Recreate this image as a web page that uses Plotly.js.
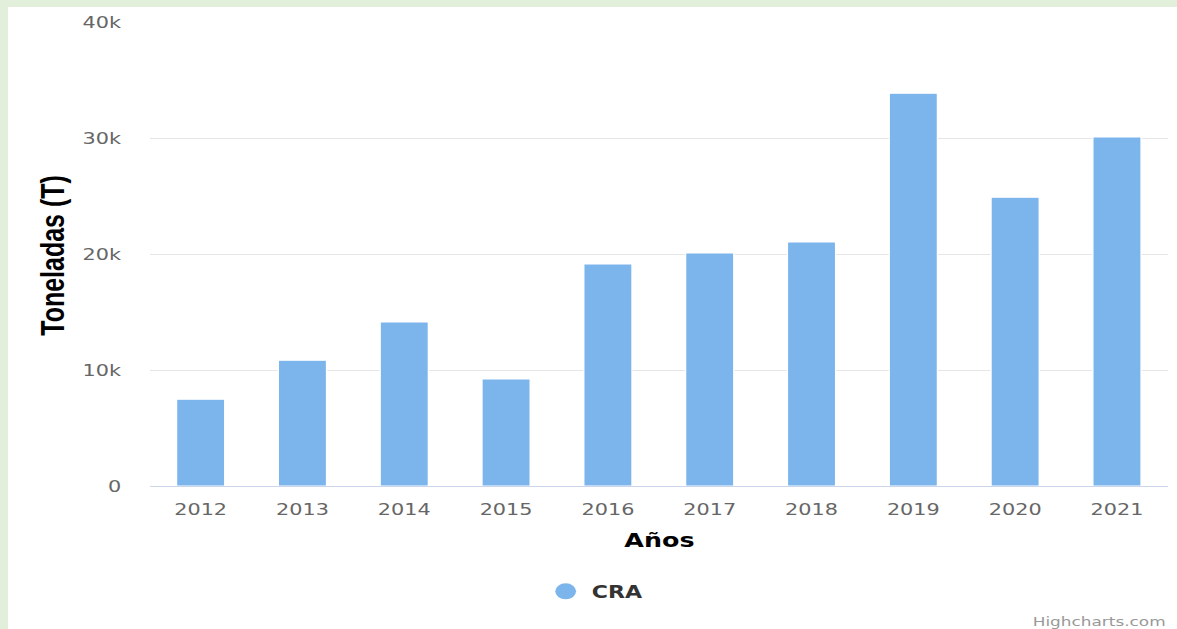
<!DOCTYPE html>
<html>
<head>
<meta charset="utf-8">
<script src="https://cdn.plot.ly/plotly-3.0.1.min.js"></script>
<style>
  html, body { margin: 0; padding: 0; width: 1177px; height: 629px; overflow: hidden; background: #e2efda; }
  #frame { position: absolute; left: 8px; top: 7px; width: 1169px; height: 622px; background: #ffffff; overflow: hidden; }
  #chart { position: absolute; left: 0; top: 0; width: 899px; height: 622px; transform: scaleX(1.3003); transform-origin: 0 0; }
</style>
</head>
<body>
<div id="frame"><div id="chart"></div></div>
<script>
// Data
const years = ['2012', '2013', '2014', '2015', '2016', '2017', '2018', '2019', '2020', '2021'];
const toneladas = [7480, 10850, 14140, 9220, 19140, 20090, 21030, 33850, 24900, 30080];
const seriesName = 'CRA';
const yTickVals = [0, 10000, 20000, 30000, 40000];
const yTickText = ['0', '10k', '20k', '30k', '40k'];
const xTitle = 'Años';
const yTitle = 'Toneladas (T)';
const credit = 'Highcharts.com';

const barColor = '#7cb5ec';

const traces = [
  {
    type: 'bar',
    x: years,
    y: toneladas,
    name: seriesName,
    showlegend: false,
    marker: { color: barColor, line: { color: '#ffffff', width: 1 } },
    hoverinfo: 'x+y'
  },
  {
    type: 'scatter',
    mode: 'markers',
    x: [null],
    y: [null],
    name: seriesName,
    showlegend: true,
    marker: { color: barColor, size: 17, symbol: 'circle' }
  }
];

const layout = {
  width: 899,
  height: 622,
  margin: { l: 109, r: 7, t: 15, b: 143 },
  paper_bgcolor: '#ffffff',
  plot_bgcolor: '#ffffff',
  bargap: 0.527,
  showlegend: true,
  legend: {
    orientation: 'h',
    x: 0.383, xanchor: 'left',
    y: -0.228, yanchor: 'middle',
    font: { family: 'DejaVu Sans', size: 17, color: '#333333', weight: 'bold' },
    itemclick: false
  },
  xaxis: {
    type: 'category',
    showgrid: false,
    showline: true,
    linecolor: '#ccd6eb',
    linewidth: 1,
    ticks: '',
    ticklabelstandoff: 9,
    tickfont: { family: 'DejaVu Sans', size: 16, color: '#666666' },
    zeroline: false
  },
  yaxis: {
    range: [0, 40000],
    tickvals: yTickVals,
    ticktext: yTickText,
    showgrid: true,
    gridcolor: '#e6e6e6',
    gridwidth: 1,
    zeroline: false,
    showline: false,
    ticks: '',
    ticklabelstandoff: 21,
    tickfont: { family: 'DejaVu Sans', size: 16, color: '#666666' }
  },
  annotations: [
    {
      text: yTitle,
      xref: 'paper', yref: 'paper',
      x: -0.096, y: 0.498,
      xanchor: 'center', yanchor: 'middle',
      textangle: -90,
      showarrow: false,
      font: { family: 'Liberation Sans', size: 25, color: '#000000', weight: 'bold' }
    },
    {
      text: xTitle,
      xref: 'paper', yref: 'paper',
      x: 0.5, y: -0.1185,
      xanchor: 'center', yanchor: 'middle',
      showarrow: false,
      font: { family: 'DejaVu Sans', size: 19.5, color: '#000000', weight: 'bold' }
    },
    {
      text: credit,
      xref: 'paper', yref: 'paper',
      x: 1.0, y: -0.291,
      xanchor: 'right', yanchor: 'middle',
      showarrow: false,
      font: { family: 'DejaVu Sans', size: 13, color: '#999999' }
    }
  ]
};

Plotly.newPlot('chart', traces, layout, { displayModeBar: false, staticPlot: true });
</script>
</body>
</html>
